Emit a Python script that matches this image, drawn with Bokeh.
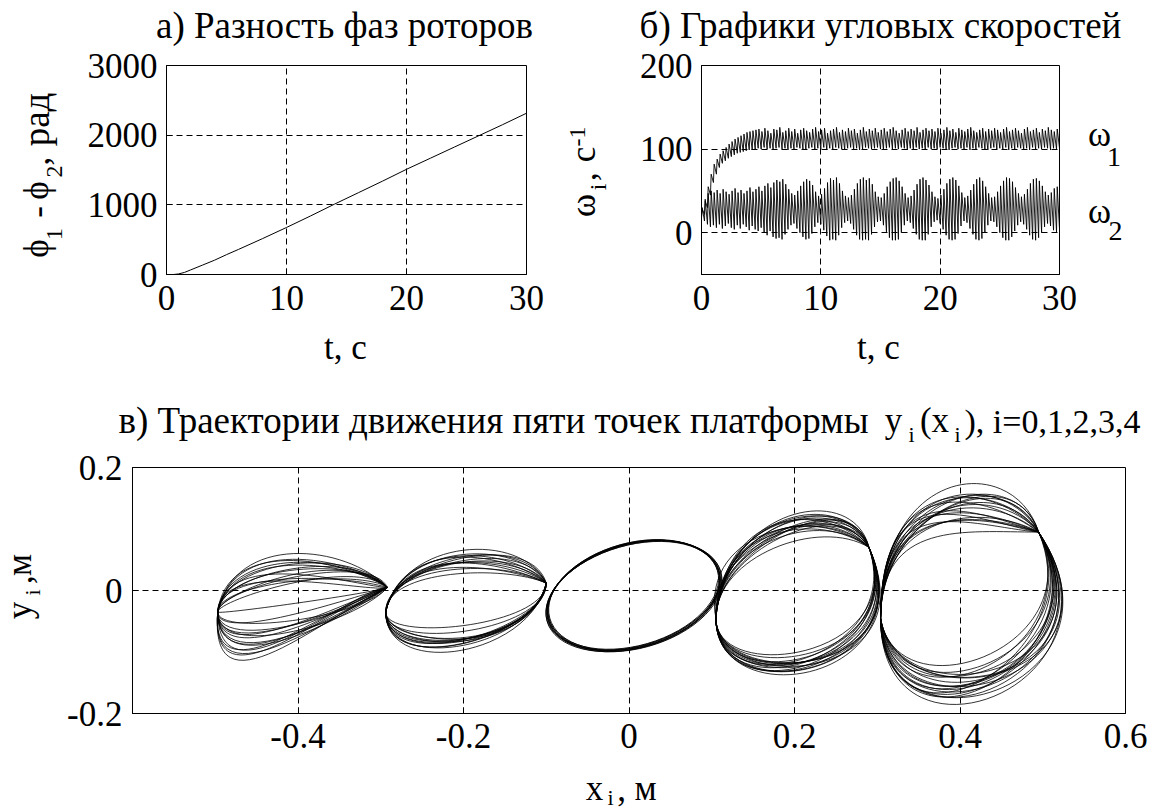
import numpy as np
from bokeh.plotting import figure
from bokeh.models import Label, FixedTicker, Range1d, CustomJSTickFormatter
from bokeh.layouts import column, row
from bokeh.embed import file_html
from bokeh.resources import INLINE

FONT = "Liberation Serif"

# ---------------- data ----------------
# a) phase difference of the rotors
phi_t = [0, 0.6, 1, 1.5, 2, 3, 4, 5, 6, 8, 10, 12, 14, 16, 18, 20, 22, 24, 26, 28, 30]
phi_d = [0, 0, 8, 30, 65, 135, 205, 285, 360, 515, 675, 840, 1010, 1175, 1340,
         1510, 1670, 1830, 1990, 2150, 2315]

# b) angular velocities: envelope (low / high) of the fast oscillation, read every 0.25 s
w_t = np.linspace(0, 30, 121)
w1_hi = [28, 38, 55, 70, 82, 88, 94, 98, 102, 106,
         109, 112, 114, 116, 118, 120, 121, 122, 123, 124,
         121, 125, 122, 119, 124, 123, 126, 120, 122, 125,
         121, 124, 119, 123, 125, 122, 120, 124, 126, 121,
         123, 125, 119, 122, 124, 126, 120, 123, 121, 125,
         122, 124, 119, 123, 126, 121, 124, 122, 125, 120,
         123, 125, 121, 124, 126, 122, 119, 123, 125, 121,
         124, 122, 126, 120, 123, 125, 122, 124, 121, 125,
         119, 123, 126, 122, 124, 120, 125, 123, 121, 124,
         126, 122, 120, 123, 125, 121, 124, 122, 125, 123,
         120, 124, 126, 121, 123, 125, 122, 119, 124, 126,
         121, 123, 125, 120, 124, 122, 126, 123, 121, 124,
         122]
w1_lo = [18, 22, 30, 45, 60, 70, 78, 83, 86, 89,
         91, 93, 95, 96, 97, 98, 99, 99, 100, 101,
         100, 102, 100, 101, 100, 101, 102, 100, 101, 99,
         101, 100, 102, 101, 100, 99, 101, 102, 100, 101,
         100, 102, 99, 101, 100, 102, 101, 100, 99, 101,
         102, 100, 101, 99, 100, 102, 101, 100, 101, 102,
         100, 99, 101, 102, 100, 101, 100, 102, 101, 99,
         101, 100, 102, 100, 101, 99, 102, 100, 101, 100,
         102, 101, 100, 99, 101, 102, 100, 101, 100, 102,
         99, 101, 100, 102, 101, 100, 99, 101, 102, 100,
         101, 100, 102, 99, 101, 100, 102, 101, 100, 101,
         99, 102, 100, 101, 100, 102, 101, 99, 101, 100,
         101]
w2_hi = [30, 40, 47, 50, 48, 51, 47, 52, 49, 46,
         50, 53, 48, 51, 47, 50, 54, 49, 52, 55,
         50, 56, 59, 54, 60, 63, 61, 64, 58, 52,
         47, 45, 50, 56, 61, 64, 62, 57, 49, 44,
         46, 53, 60, 65, 63, 66, 59, 50, 44, 42,
         45, 52, 59, 64, 66, 63, 65, 58, 49, 43,
         42, 47, 55, 61, 65, 66, 62, 55, 47, 42,
         44, 51, 58, 64, 66, 63, 57, 49, 43, 41,
         45, 52, 59, 64, 66, 63, 56, 48, 42, 44,
         51, 58, 64, 66, 62, 55, 47, 42, 43, 49,
         56, 62, 66, 65, 61, 54, 47, 43, 46, 52,
         59, 64, 65, 62, 56, 49, 45, 48, 53, 55,
         52]
w2_lo = [20, 14, 10, 7, 9, 6, 10, 5, 8, 11,
         6, 4, 9, 5, 10, 7, 3, 8, 4, 2,
         6, 0, -3, 2, -5, -7, -6, -8, -2, 4,
         9, 11, 5, 0, -5, -8, -7, -1, 7, 12,
         10, 3, -4, -9, -8, -9, -3, 6, 12, 14,
         11, 4, -3, -8, -9, -8, -9, -2, 7, 13,
         14, 9, 1, -6, -9, -9, -8, 0, 9, 14,
         12, 5, -2, -8, -9, -9, -2, 7, 13, 15,
         11, 4, -3, -8, -9, -8, -1, 8, 14, 12,
         5, -2, -8, -9, -7, 0, 9, 14, 13, 7,
         0, -6, -9, -9, -5, 2, 9, 13, 10, 4,
         -3, -8, -9, -6, 0, 7, 11, 8, 3, 1,
         4]

# c) trajectories of the five platform points (metres).
# Loops of points 0,1,3,4 run between two nodes; each loop = upper arc + lower arc
# (cubic curves, control points given as offsets from the left / right node).
node_left = [(-0.497, -0.035), (-0.294, -0.035), (0.105, -0.045), (0.304, -0.045)]
node_right = [(-0.292, 0.005), (-0.100, 0.012), (0.290, 0.070), (0.495, 0.095)]
upper_arcs = [
    [(0.02, 0.13, -0.05, 0.07), (0.02, 0.12, -0.02, 0.03), (0.01, 0.10, -0.06, 0.06),
     (0.01, 0.08, -0.03, 0.05), (0.0, 0.06, -0.05, 0.07), (0.0, 0.04, -0.02, 0.06),
     (0.0, 0.02, -0.04, 0.05), (0.01, 0.11, -0.03, 0.0), (0.0, 0.09, -0.02, -0.01),
     (0.0, 0.07, -0.05, 0.02), (0.0, 0.05, -0.03, 0.03), (0.01, 0.12, -0.06, 0.05),
     (0.0, -0.005, -0.02, -0.01), (0.02, 0.135, -0.03, 0.04), (0.0, 0.03, -0.06, 0.07),
     (0.01, 0.09, -0.04, 0.065)],
    [(0.0, 0.07, -0.05, 0.03), (0.02, 0.12, -0.03, 0.085), (0.02, 0.115, -0.05, 0.035),
     (0.015, 0.105, -0.045, 0.045), (0.01, 0.095, -0.04, 0.055), (0.01, 0.085, -0.035, 0.065),
     (0.0, 0.075, -0.03, 0.08), (0.02, 0.12, -0.04, 0.06), (0.01, 0.09, -0.03, 0.085),
     (0.0, 0.08, -0.05, 0.04), (0.015, 0.11, -0.035, 0.075), (0.02, 0.125, -0.045, 0.05),
     (0.005, 0.08, -0.02, 0.09), (0.01, 0.10, -0.05, 0.03)],
    [(0.0, 0.10, -0.06, 0.05), (0.01, 0.18, -0.02, 0.11), (0.01, 0.17, -0.055, 0.06),
     (0.01, 0.16, -0.05, 0.07), (0.0, 0.14, -0.04, 0.085), (0.0, 0.12, -0.03, 0.10),
     (0.0, 0.11, -0.025, 0.11), (0.01, 0.18, -0.04, 0.08), (0.0, 0.13, -0.02, 0.105),
     (0.0, 0.15, -0.06, 0.06), (0.01, 0.16, -0.035, 0.095), (-0.02, 0.15, -0.05, 0.07),
     (-0.015, 0.12, -0.03, 0.09), (0.0, 0.165, -0.03, 0.10), (0.01, 0.175, -0.03, 0.10),
     (0.0, 0.125, -0.055, 0.065), (0.005, 0.155, -0.025, 0.105), (0.0, 0.105, -0.04, 0.09),
     (0.01, 0.185, -0.05, 0.075)],
    [(0.0, 0.16, -0.09, 0.0), (0.0, 0.25, -0.03, 0.13), (0.0, 0.24, -0.08, 0.02),
     (0.0, 0.22, -0.07, 0.04), (0.0, 0.20, -0.06, 0.07), (0.0, 0.18, -0.05, 0.10),
     (0.0, 0.17, -0.04, 0.12), (0.0, 0.25, -0.06, 0.06), (0.0, 0.21, -0.04, 0.11),
     (0.0, 0.19, -0.08, 0.03), (0.0, 0.23, -0.05, 0.09), (0.0, 0.17, -0.07, 0.05),
     (0.0, 0.20, -0.03, 0.12), (0.0, 0.245, -0.07, 0.03), (0.0, 0.235, -0.04, 0.10),
     (0.0, 0.185, -0.075, 0.035), (0.0, 0.215, -0.085, 0.01), (0.0, 0.175, -0.03, 0.125),
     (0.0, 0.25, -0.05, 0.08), (0.0, 0.195, -0.055, 0.085)],
]
lower_arcs = [
    [(-0.01, -0.17, -0.09, -0.06), (-0.01, -0.15, -0.06, -0.02), (-0.01, -0.14, -0.09, -0.07),
     (0.0, -0.12, -0.05, -0.05), (0.0, -0.10, -0.08, -0.07), (0.0, -0.08, -0.04, -0.06),
     (0.0, -0.06, -0.07, -0.06), (0.0, -0.04, -0.03, -0.05), (0.0, -0.16, -0.04, 0.0),
     (0.0, -0.13, -0.03, -0.02), (0.0, -0.09, -0.06, -0.03), (0.0, -0.05, -0.05, -0.02),
     (-0.01, -0.165, -0.07, -0.03), (0.0, -0.07, -0.09, -0.06), (0.0, -0.11, -0.02, -0.01)],
    [(0.0, -0.05, 0.0, -0.07), (0.0, -0.11, -0.02, -0.12), (0.0, -0.105, 0.0, -0.075),
     (0.0, -0.095, 0.0, -0.085), (0.0, -0.085, -0.01, -0.095), (0.0, -0.075, -0.01, -0.105),
     (0.0, -0.06, -0.02, -0.115), (0.0, -0.11, -0.01, -0.09), (0.0, -0.07, -0.02, -0.12),
     (0.0, -0.10, -0.02, -0.11), (0.0, -0.065, 0.0, -0.08), (0.0, -0.115, 0.0, -0.08),
     (0.0, -0.055, -0.02, -0.125), (0.0, -0.09, -0.015, -0.10)],
    [(0.0, -0.11, 0.05, -0.18), (0.0, -0.16, 0.07, -0.22), (0.0, -0.155, 0.05, -0.185),
     (0.0, -0.145, 0.055, -0.19), (0.0, -0.135, 0.06, -0.20), (0.0, -0.125, 0.065, -0.21),
     (0.0, -0.115, 0.07, -0.22), (0.0, -0.16, 0.06, -0.20), (0.0, -0.12, 0.07, -0.215),
     (0.0, -0.15, 0.065, -0.215), (0.0, -0.13, 0.05, -0.19), (0.0, -0.14, 0.07, -0.21),
     (0.0, -0.155, 0.07, -0.21), (0.0, -0.115, 0.055, -0.19), (0.0, -0.145, 0.045, -0.18),
     (0.0, -0.125, 0.075, -0.225), (0.0, -0.16, 0.05, -0.195)],
    [(0.02, -0.16, 0.065, -0.19), (0.0, -0.27, 0.12, -0.25), (0.01, -0.26, 0.07, -0.19),
     (0.01, -0.24, 0.08, -0.20), (0.01, -0.22, 0.09, -0.22), (0.02, -0.20, 0.10, -0.23),
     (0.02, -0.17, 0.11, -0.25), (0.0, -0.25, 0.10, -0.22), (0.01, -0.21, 0.12, -0.24),
     (0.02, -0.18, 0.075, -0.20), (0.0, -0.23, 0.11, -0.24), (0.02, -0.19, 0.09, -0.21),
     (0.015, -0.215, 0.085, -0.23), (0.005, -0.255, 0.11, -0.23), (0.01, -0.265, 0.085, -0.21),
     (0.02, -0.175, 0.12, -0.245), (0.0, -0.245, 0.125, -0.25), (0.015, -0.195, 0.065, -0.205),
     (0.01, -0.235, 0.095, -0.215), (0.02, -0.165, 0.10, -0.24)],
]
# point 2 (centre of the platform): a nearly single tilted ellipse, a few turns
e2_x = [0.0057, 0.0050, 0.0065, 0.0055, 0.0060, 0.0048, 0.0062, 0.0057]
e2_y = [-0.008, -0.007, -0.009, -0.008, -0.0075, -0.0085, -0.008, -0.0095]
e2_w = [0.215, 0.212, 0.217, 0.214, 0.211, 0.216, 0.213, 0.218]
e2_h = [0.168, 0.165, 0.170, 0.166, 0.169, 0.164, 0.171, 0.167]
e2_a = [0.274, 0.280, 0.270, 0.285, 0.265, 0.278, 0.270, 0.282]

# ticks
a_xticks = [0, 10, 20, 30]; a_xlabels = ["0", "10", "20", "30"]
a_yticks = [0, 1000, 2000, 3000]; a_ylabels = ["0", "1000", "2000", "3000"]
b_xticks = [0, 10, 20, 30]; b_xlabels = ["0", "10", "20", "30"]
b_yticks = [0, 100, 200]; b_ylabels = ["0", "100", "200"]
c_xticks = [-0.4, -0.2, 0, 0.2, 0.4, 0.6]; c_xlabels = ["-0.4", "-0.2", "0", "0.2", "0.4", "0.6"]
c_yticks = [-0.2, 0, 0.2]; c_ylabels = ["-0.2", "0", "0.2"]

# ---------------- layout geometry (page pixels) ----------------
G1 = dict(fl=166, ft=65, fw=360, fh=209, x0=0, x1=30, y0=0, y1=3000, cl=80, ct=48, cw=480, ch=279)
G2 = dict(fl=701, ft=65, fw=358, fh=209, x0=0, x1=30, y0=-50, y1=200, cl=635, ct=48, cw=443, ch=279)
G3 = dict(fl=132, ft=467, fw=993, fh=246, x0=-0.6, x1=0.6, y0=-0.2, y1=0.2, cl=50, ct=447, cw=1108, ch=318)

DASH = "6 4"
MID = 0.36   # distance baseline -> centre of the text box, in font sizes


def fmt(ticks, labels):
    return CustomJSTickFormatter(args=dict(ts=list(map(float, ticks)), ls=labels), code="""
        for (let i = 0; i < ts.length; i++) { if (Math.abs(ts[i] - tick) < 1e-9) return ls[i]; }
        return '';""")


def make(G, xt, xl, yt, yl, xs, ys):
    lb = G['fl'] - G['cl']; tb = G['ft'] - G['ct']
    p = figure(frame_width=G['fw'], frame_height=G['fh'],
               x_range=Range1d(G['x0'], G['x1']), y_range=Range1d(G['y0'], G['y1']),
               min_border_left=lb, min_border_top=tb,
               min_border_right=G['cw'] - lb - G['fw'], min_border_bottom=G['ch'] - tb - G['fh'],
               output_backend="svg", toolbar_location=None,
               background_fill_color="white", border_fill_color="white")
    p.outline_line_color = "black"
    p.outline_line_width = 1
    xtk = FixedTicker(ticks=xt); ytk = FixedTicker(ticks=yt)
    for ax, tk, tl in ((p.xaxis[0], xtk, xl), (p.yaxis[0], ytk, yl)):
        ax.ticker = tk
        ax.formatter = fmt(tk.ticks, tl)
        ax.major_label_text_font = FONT
        ax.major_label_text_font_size = "35px"
        ax.major_label_text_color = "black"
        ax.major_tick_in = 6
        ax.major_tick_out = 0
        ax.minor_tick_line_color = None
        ax.axis_line_color = "black"
        ax.major_tick_line_color = "black"
    p.xaxis.major_label_standoff = xs
    p.yaxis.major_label_standoff = ys
    p.xgrid.ticker = xtk
    p.ygrid.ticker = ytk
    for g in (p.xgrid, p.ygrid):
        g.grid_line_color = "black"
        g.grid_line_dash = DASH
        g.grid_line_width = 1
    return p


def strip(x0, x1, y0, y1):
    """text-only figure covering page pixels x0..x1, y0..y1"""
    p = figure(frame_width=x1 - x0, frame_height=y1 - y0,
               x_range=Range1d(x0, x1), y_range=Range1d(y1, y0),
               min_border_left=0, min_border_right=0, min_border_top=0, min_border_bottom=0,
               x_axis_location=None, y_axis_location=None,
               output_backend="svg", toolbar_location=None,
               background_fill_color="white", border_fill_color="white")
    p.grid.visible = False
    p.outline_line_color = None
    p._origin = (x0, y0)
    return p


def put(p, c, b, text, size=35, rot=False, canvas=False):
    """c: centre of the piece along its reading direction, b: its baseline (page px)"""
    if rot:
        x, y = b - MID * size, c
    else:
        x, y = c, b - MID * size
    kw = {}
    if canvas:
        ox, oy = p._origin
        x, y = x - ox, y - oy
        kw = dict(x_units="canvas", y_units="canvas")
    p.add_layout(Label(x=x, y=y, text=text, text_font=FONT, text_font_size=f"{size}px",
                       text_align="center", text_baseline="alphabetic",
                       angle=(np.pi / 2 if rot else 0.0), text_color="black", **kw))


# ---------- a) ----------
p1 = make(G1, a_xticks, a_xlabels, a_yticks, a_ylabels, 11, 9)
p1.line(phi_t, phi_d, line_color="black", line_width=1)

# ---------- b) ----------
p2 = make(G2, b_xticks, b_xlabels, b_yticks, b_ylabels, 11, 9)
zx = np.empty(2 * len(w_t)); zx[0::2] = w_t; zx[1::2] = w_t + 0.06
z1 = np.empty(2 * len(w_t)); z1[0::2] = w1_lo; z1[1::2] = w1_hi
z2 = np.empty(2 * len(w_t)); z2[0::2] = w2_lo; z2[1::2] = w2_hi
p2.line(zx, z1, line_color="black", line_width=0.9)
p2.line(zx, z2, line_color="black", line_width=0.9)

# ---------- c) ----------
p3 = make(G3, c_xticks, c_xlabels, c_yticks, c_ylabels, 10, 10)
bx0, by0, bx1, by1, bcx0, bcy0, bcx1, bcy1 = ([] for _ in range(8))
for (lx, ly), (rx, ry), ups, lows in zip(node_left, node_right, upper_arcs, lower_arcs):
    for a, b, c, d in ups + lows:
        bx0.append(lx); by0.append(ly); bx1.append(rx); by1.append(ry)
        bcx0.append(lx + a); bcy0.append(ly + b); bcx1.append(rx + c); bcy1.append(ry + d)
p3.bezier(x0=bx0, y0=by0, x1=bx1, y1=by1, cx0=bcx0, cy0=bcy0, cx1=bcx1, cy1=bcy1,
          line_color="black", line_width=0.8)
p3.ellipse(x=e2_x, y=e2_y, width=e2_w, height=e2_h, angle=e2_a, fill_color=None,
           line_color="black", line_width=0.9)

# ---------- texts ----------
T = strip(0, 1158, 0, 48)
put(T, 344, 38, "а) Разность фаз роторов", size=37)
put(T, 880, 38, "б) Графики угловых скоростей", size=37)

YL1 = strip(0, 80, 48, 327)
put(YL1, 248, 49, "ϕ", rot=True, canvas=True)
put(YL1, 233.5, 63, "1", size=24, rot=True, canvas=True)
put(YL1, 211.5, 49, "-", rot=True, canvas=True)
put(YL1, 190, 49, "ϕ", rot=True, canvas=True)
put(YL1, 171, 63, "2", size=24, rot=True, canvas=True)
put(YL1, 160.5, 49, ",", rot=True, canvas=True)
put(YL1, 119, 49, "рад", size=37, rot=True, canvas=True)

YL2 = strip(560, 635, 48, 327)
put(YL2, 205, 596, "ω", rot=True, canvas=True)
put(YL2, 186.5, 606, "i", size=24, rot=True, canvas=True)
put(YL2, 176, 596, ",", rot=True, canvas=True)
put(YL2, 154, 596, "с", rot=True, canvas=True)
put(YL2, 136, 586, "-1", size=24, rot=True, canvas=True)

OM = strip(1078, 1158, 48, 327)
put(OM, 1099, 147, "ω", canvas=True)
put(OM, 1113.5, 167, "1", size=28, canvas=True)
put(OM, 1099, 224, "ω", canvas=True)
put(OM, 1115, 241, "2", size=28, canvas=True)

X1 = strip(0, 1158, 327, 370)
put(X1, 345, 360, "t, с")
put(X1, 878, 360, "t, с")

T2 = strip(0, 1158, 370, 447)
put(T2, 493, 433, "в) Траектории движения пяти точек платформы", size=37)
put(T2, 893, 433, "y")
put(T2, 911, 442, "i", size=22)
put(T2, 934, 433, "(x")
put(T2, 957, 442, "i", size=22)
put(T2, 1052, 433, "), i=0,1,2,3,4", size=34)

YL3 = strip(0, 50, 447, 765)
put(YL3, 610, 32, "y", rot=True, canvas=True)
put(YL3, 592, 40, "i", size=22, rot=True, canvas=True)
put(YL3, 579, 32, ",", rot=True, canvas=True)
put(YL3, 564.5, 32, "м", rot=True, canvas=True)

X2 = strip(0, 1158, 765, 810)
put(X2, 594, 801, "x")
put(X2, 610, 805, "i", size=22)
put(X2, 621, 801, ",")
put(X2, 645, 801, "м")

layout = column(T, row(YL1, p1, YL2, p2, OM), X1, T2, row(YL3, p3), X2)
open("out.html", "w").write(file_html(layout, INLINE))
